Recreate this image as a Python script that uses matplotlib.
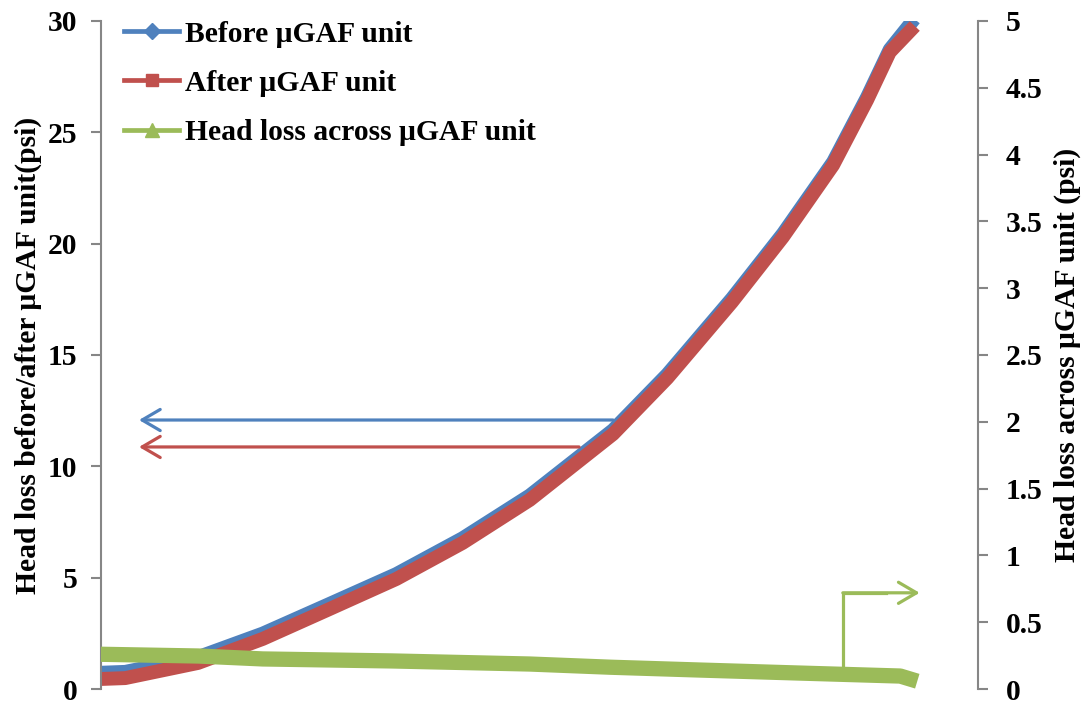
import matplotlib.pyplot as plt
from matplotlib.lines import Line2D

plt.rcParams['font.family'] = ['Liberation Serif', 'DejaVu Serif']
plt.rcParams['font.weight'] = 'bold'

# reading index along the run (x axis is not labelled)
run_time = [0, 3, 12, 20, 28, 36.5, 44.7, 53, 63.3, 70, 78, 84.3, 90.5,
            94.7, 97.5, 100]

# pressure before / after the unit (psi, left axis)
before_unit = [0.73, 0.77, 1.43, 2.49, 3.78, 5.16, 6.77, 8.69, 11.63,
               14.13, 17.54, 20.45, 23.67, 26.58, 28.72, 29.85]
after_unit = [0.45, 0.49, 1.17, 2.25, 3.55, 4.94, 6.56, 8.49, 11.45,
              13.96, 17.38, 20.3, 23.53, 26.45, 28.6, 29.55]

# head loss across the unit (psi, right axis)
loss_time = [0, 12, 20, 36, 53, 63, 74, 86, 98.8, 100]
head_loss = [0.26, 0.247, 0.225, 0.21, 0.187, 0.163, 0.142, 0.12, 0.097,
             0.075]

BLUE = '#4F81BD'
RED = '#C0504D'
GREEN = '#9BBB59'
GREY = '#868686'
FS = 21.3

fig = plt.figure(figsize=(10.89, 7.04), dpi=100)
ax = fig.add_axes([0.0927, 0.0213, 0.8053, 0.9489])
ax2 = ax.twinx()

ax.plot(run_time, before_unit, color=BLUE, lw=10, solid_capstyle='projecting')
ax.plot(run_time, after_unit, color=RED, lw=10, solid_capstyle='projecting')
ax2.plot(loss_time, head_loss, color=GREEN, lw=11, solid_capstyle='projecting')

ax.set_xlim(0, 108.4)
ax.set_ylim(0, 30)
ax2.set_ylim(0, 5)
ax.set_yticks(range(0, 31, 5))
ax2.set_yticks([0, 0.5, 1, 1.5, 2, 2.5, 3, 3.5, 4, 4.5, 5])
ax2.set_yticklabels(['0', '0.5', '1', '1.5', '2', '2.5', '3', '3.5', '4', '4.5', '5'])

for a in (ax, ax2):
    for s in ('top', 'bottom'):
        a.spines[s].set_visible(False)
    a.set_xticks([])
    a.tick_params(axis='y', length=7, width=1.5, color=GREY, labelsize=FS)
ax.spines['right'].set_visible(False)
ax2.spines['left'].set_visible(False)
ax.spines['left'].set_color(GREY)
ax.spines['left'].set_linewidth(1.5)
ax2.spines['right'].set_color(GREY)
ax2.spines['right'].set_linewidth(1.5)
ax.tick_params(axis='y', pad=10)
ax2.tick_params(axis='y', pad=13)

ax.set_ylabel('Head loss before/after \u03bcGAF unit(psi)', fontsize=FS,
              fontweight='bold', labelpad=4)
ax2.set_ylabel('Head loss across \u03bcGAF unit (psi)', fontsize=FS,
               fontweight='bold', labelpad=8)

# arrows pointing each series to its axis
arrow_kw = dict(arrowstyle='->,head_length=0.65,head_width=0.38', lw=2.3,
                mutation_scale=20)
ax.annotate('', xy=(4.7, 12.08), xytext=(63.3, 12.08),
            arrowprops=dict(color=BLUE, shrinkA=0, shrinkB=0, **arrow_kw))
ax.annotate('', xy=(4.7, 10.87), xytext=(59.1, 10.87),
            arrowprops=dict(color=RED, shrinkA=0, shrinkB=0, **arrow_kw))
ax2.plot([91.7, 91.7, 97], [0.16, 0.72, 0.72], color=GREEN, lw=2.3,
         solid_capstyle='projecting')
ax2.annotate('', xy=(101.2, 0.72), xytext=(91.7, 0.72),
             arrowprops=dict(color=GREEN, shrinkA=0, shrinkB=0, **arrow_kw))

handles = [
    Line2D([], [], color=BLUE, lw=3.4, marker='D', ms=8.5),
    Line2D([], [], color=RED, lw=3.4, marker='s', ms=8),
    Line2D([], [], color=GREEN, lw=3.4, marker='^', ms=9.5),
]
labels = ['Before \u03bcGAF unit', 'After \u03bcGAF unit',
          'Head loss across \u03bcGAF unit']
fig.legend(handles, labels, loc='upper left', bbox_to_anchor=(0.098, 0.996),
           frameon=False, handlelength=1.85, handletextpad=0.2,
           labelspacing=0.75, borderaxespad=0.2,
           prop={'weight': 'bold', 'size': FS})

fig.savefig('out.png', dpi=100)
